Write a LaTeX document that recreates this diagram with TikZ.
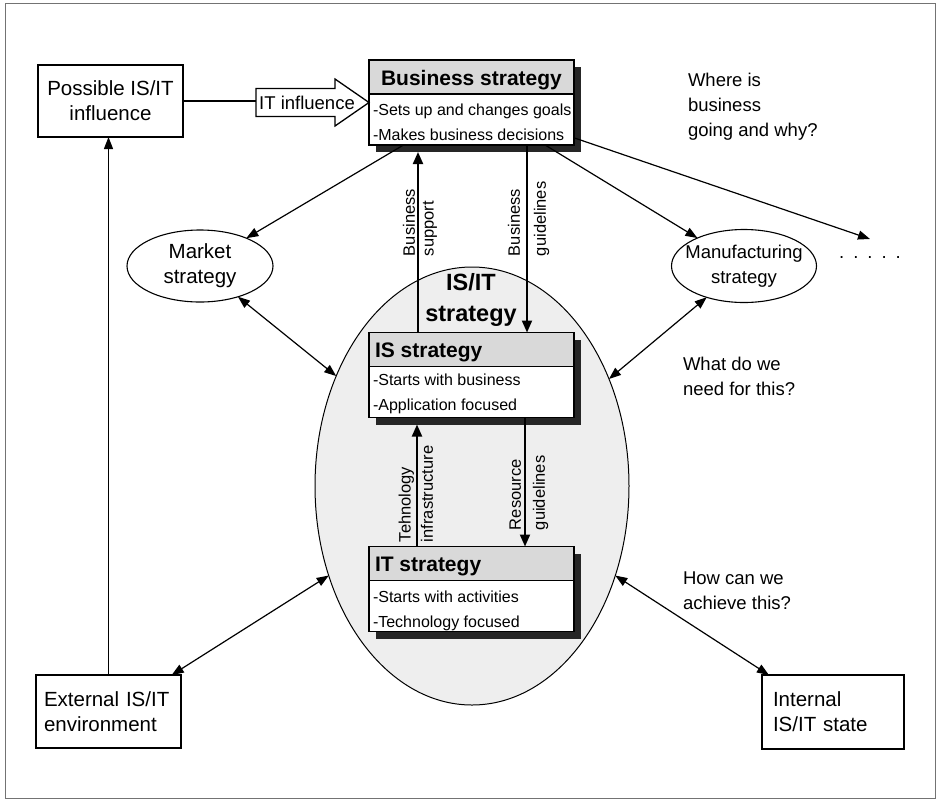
\documentclass[tikz,border=0pt]{standalone}
\usepackage{fontspec}
\setmainfont{Liberation Sans}
\usetikzlibrary{shapes.geometric,arrows.meta,shadows,calc}
\newcommand\fsbox{\fontsize{20.5}{25}\selectfont}
\newcommand\fshdr{\fontsize{21}{25}\selectfont\bfseries}
\newcommand\fsbody{\fontsize{16}{25}\selectfont}
\newcommand\fslbl{\fontsize{16.5}{20}\selectfont}
\newcommand\fsq{\fontsize{18.5}{25}\selectfont}
\newcommand\fsisit{\fontsize{23.5}{31}\selectfont\bfseries}
\newcommand\fsmkt{\fontsize{20.5}{25}\selectfont}
\newcommand\fsmfg{\fontsize{18.5}{25}\selectfont}
\tikzset{
  every node/.style={inner sep=0pt, outer sep=0pt},
  frame/.style={draw=black!55, line width=0.8pt},
  plainbox/.style={draw, line width=1.5pt, font=\fsbox, fill=white},
  stratbox/.style={draw, line width=1.5pt, minimum width=205pt, minimum height=85pt, fill=white,
    drop shadow={shadow xshift=7pt, shadow yshift=-7pt, fill=black!85, opacity=1},
    path picture={
      \fill[gray!30] (path picture bounding box.north west) rectangle ([yshift=-34pt]path picture bounding box.north east);
      \draw[line width=1.5pt] ([yshift=-34pt]path picture bounding box.north west) -- ([yshift=-34pt]path picture bounding box.north east);
    }},
  hdr/.style={font=\fshdr},
  body/.style={font=\fsbody, anchor=base west},
  bigell/.style={ellipse, draw, line width=1pt, fill=gray!13, minimum width=314pt, minimum height=438pt},
  ell/.style={ellipse, draw, line width=1.1pt, fill=white},
  vlbl/.style={font=\fslbl, rotate=90},
  qtext/.style={font=\fsq, align=left, anchor=north west},
  conn/.style={line width=1.2pt},
  arr/.style={line width=1.2pt, -{Triangle[length=12pt,width=9pt]}},
  darr/.style={line width=1.2pt, {Triangle[length=12pt,width=9pt]}-{Triangle[length=12pt,width=9pt]}},
  varr/.style={line width=2pt, -{Triangle[length=12pt,width=10pt]}},
  blockarrow/.style={draw, line width=1.3pt, fill=white}
}
\begin{document}
\begin{tikzpicture}[x=1pt,y=-1pt]
\useasboundingbox (0,0) rectangle (942,804);
\draw[frame] (5,3) rectangle (935,798);

% IS/IT strategy region
\node[bigell] (isit) at (472,486) {};
\node[font=\fsisit, align=center] (isitl) at (471,300) {IS/IT\\strategy};

% strategy boxes
\node[stratbox] (biz) at (471.5,102.5) {};
\node[stratbox] (is) at (471.5,375) {};
\node[stratbox] (it) at (471.5,589) {};

\node[hdr, anchor=base] (bizh) at (471.5,85) {Business strategy};
\node[body] (bizb1) at (373,115) {-Sets up and changes goals};
\node[body] (bizb2) at (373,140) {-Makes business decisions};

\node[hdr, anchor=base west] (ish) at (375,357.5) {IS strategy};
\node[body] (isb1) at (373,385) {-Starts with business};
\node[body] (isb2) at (373,410) {-Application focused};

\node[hdr, anchor=base west] (ith) at (375,571.5) {IT strategy};
\node[body] (itb1) at (373,602) {-Starts with activities};
\node[body] (itb2) at (373,627) {-Technology focused};

% outer boxes
\node[plainbox, align=center, minimum width=145pt, minimum height=72pt] (poss) at (110.5,101) {Possible IS/IT\\influence};
\node[plainbox, align=left, text width=129pt, inner xsep=8pt, minimum height=73pt] (ext) at (108.5,711.5) {External IS/IT\\environment};
\node[plainbox, align=left, text width=120pt, inner xsep=11pt, minimum height=74pt] (intl) at (833,712) {Internal\\IS/IT state};

% ellipses
\node[ell, minimum width=146pt, minimum height=72pt] (mkt) at (200,266) {};
\node[font=\fsmkt, align=center] (mktl) at (mkt) {Market\\strategy};
\node[ell, minimum width=145pt, minimum height=73pt] (mfg) at (744,266) {};
\node[font=\fsmfg, align=center] (mfgl) at (mfg) {Manufacturing\\strategy};

\node[font=\fsq, anchor=base] (dots) at (870,258) {.\hspace{9pt}.\hspace{9pt}.\hspace{9pt}.\hspace{9pt}.};
\coordinate (dotsend) at (870,239);

% IT influence block arrow
\draw[blockarrow] (256,88.5) -- (335,88.5) -- (335,79) -- (biz.west) -- (335,126) -- (335,116.5) -- (256,116.5) -- cycle;
\node[font=\fsq] (itinf) at (307,102.5) {IT influence};
\coordinate (itt) at (256,101);
\draw[conn] (poss.east) -- (poss.east -| itt);

% question texts
\node[qtext] (q1) at (688,73.5) {Where is\\business\\going and why?};
\node[qtext] (q2) at (683,357) {What do we\\need for this?};
\node[qtext] (q3) at (683,572) {How can we\\achieve this?};

% connectors from business strategy
\draw[arr] (biz.212) -- (mkt.31);
\draw[arr] (biz.-30) -- (mfg.149);
\draw[arr] (biz.-19) -- (dotsend);

% double arrows to IS/IT strategy
\draw[darr] (mkt.-39) -- (isit.141);
\draw[darr] (mfg.220) -- (isit.38);
\draw[darr] (ext.30) -- (isit.212);
\draw[darr] (intl.150) -- (isit.-32);

% external to possible influence
\draw[arr] (ext.north) -- (ext.north |- poss.south);

% vertical arrows
\coordinate (bsx) at (418,0);
\coordinate (bgx) at (527,0);
\coordinate (tix) at (417,0);
\coordinate (rgx) at (525,0);
\draw[varr, shorten >=7pt] (is.north -| bsx) -- (biz.south -| bsx);
\draw[varr] (biz.south -| bgx) -- (is.north -| bgx);
\draw[varr, shorten >=7pt] (it.north -| tix) -- (is.south -| tix);
\draw[varr] (is.south -| rgx) -- (it.north -| rgx);

\node[vlbl, anchor=south west] (l1a) at (415,256) {Business};
\node[vlbl, anchor=north west] (l1b) at (423,256) {support};
\node[vlbl, anchor=south west] (l2a) at (520,256) {Business};
\node[vlbl, anchor=north west] (l2b) at (534,256) {guidelines};
\node[vlbl, anchor=south west] (l3a) at (414,542) {Tehnology};
\node[vlbl, anchor=north west] (l3b) at (421,542) {infrastructure};
\node[vlbl, anchor=south west] (l4a) at (521,530) {Resource};
\node[vlbl, anchor=north west] (l4b) at (533,530) {guidelines};
\end{tikzpicture}
\end{document}
